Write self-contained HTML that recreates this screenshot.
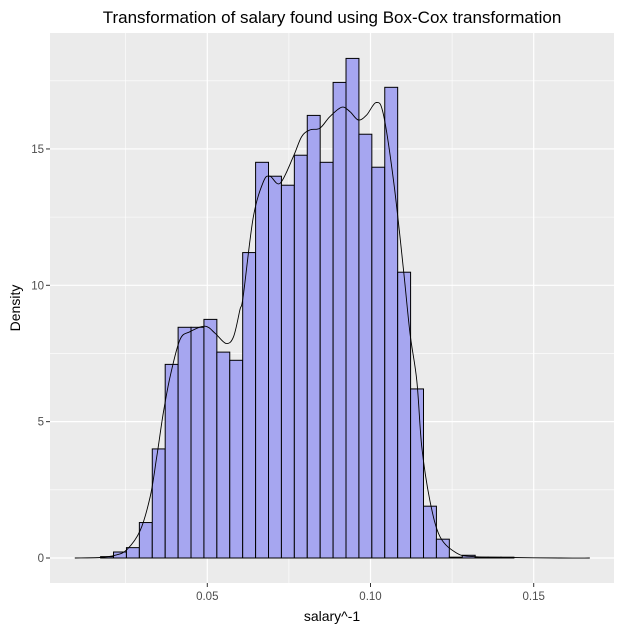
<!DOCTYPE html>
<html><head><meta charset="utf-8"><style>
body{margin:0;background:#fff;}
svg{display:block;font-family:"Liberation Sans",Arial,sans-serif;}
</style></head><body>
<svg id="chart" width="622" height="630">
<rect x="0" y="0" width="622" height="630" fill="#fff"/>
<rect x="50" y="33" width="564" height="550" fill="#ebebeb"/>
<g id="grid"></g>
<g id="bars"></g>
<g id="curve"></g>
<g id="axes"></g>
<text x="332" y="23" text-anchor="middle" font-size="17" fill="#000">Transformation of salary found using Box-Cox transformation</text>
<text x="332" y="621" text-anchor="middle" font-size="14" fill="#000">salary^-1</text>
<text transform="translate(20,308) rotate(-90)" text-anchor="middle" font-size="14" fill="#000">Density</text>
</svg>
<script>
const binStart = 0.0094;
const binWidth = 0.003957;
const densities = [0,0,0.05,0.22,0.38,1.3,4.0,7.1,8.46,8.46,8.75,7.55,7.25,11.2,14.51,14.0,13.67,14.77,16.23,14.51,17.44,18.32,15.54,14.33,17.26,10.48,6.2,1.9,0.69,0.03,0.1,0.03,0.03,0.03,0,0,0,0,0,0];
const curveX = [0.0094,0.0171,0.0217,0.0253,0.0294,0.0325,0.0345,0.0365,0.0386,0.0416,0.0447,0.0493,0.0524,0.0557,0.0580,0.0600,0.0610,0.0641,0.0672,0.0692,0.0723,0.0763,0.0789,0.0815,0.0845,0.0875,0.0912,0.0937,0.0963,0.0988,0.1017,0.1039,0.1070,0.1100,0.1121,0.1142,0.1157,0.1182,0.1213,0.1264,0.1314,0.1427,0.1580,0.1672];
const curveY = [0,0.02,0.1,0.3,1.0,2.25,3.7,5.3,6.65,8.0,8.3,8.5,8.24,7.87,8.1,9.1,9.6,12.5,13.8,14.0,13.74,14.7,15.45,15.7,15.76,16.18,16.53,16.37,16.06,16.24,16.7,16.3,13.9,10.7,8.24,6.5,4.1,2.1,0.78,0.18,0.05,0.02,0,0];
const xTicks = [0.05,0.10,0.15];
const xTickLabels = ["0.05","0.10","0.15"];
const xMinor = [0.025,0.075,0.125];
const yTicks = [0,5,10,15];
const yTickLabels = ["0","5","10","15"];
const yMinor = [2.5,7.5,12.5,17.5];

const X = v => 207.3 + (v - 0.05) * 3264;
const Y = d => 558 - d * 27.27;
const NS = "http://www.w3.org/2000/svg";
function mk(tag, attrs, parent){const e=document.createElementNS(NS,tag);for(const k in attrs)e.setAttribute(k,attrs[k]);parent.appendChild(e);return e;}
const grid=document.getElementById('grid'), bars=document.getElementById('bars'), curve=document.getElementById('curve'), axes=document.getElementById('axes');

xMinor.forEach(v=>{const l=mk('line',{x1:X(v),x2:X(v),y1:33,y2:583,stroke:'#fff','stroke-width':0.6},grid);

});
yMinor.forEach(v=>{const l=mk('line',{x1:50,x2:614,y1:Y(v),y2:Y(v),stroke:'#fff','stroke-width':0.6},grid);

});
xTicks.forEach((v,i)=>{const l=mk('line',{x1:X(v),x2:X(v),y1:33,y2:583,stroke:'#fff','stroke-width':1.2},grid);


mk('line',{x1:X(v),x2:X(v),y1:583,y2:587,stroke:'#333','stroke-width':1},axes);
const t=mk('text',{x:X(v),y:600,'text-anchor':'middle','font-size':11.5,fill:'#4d4d4d'},axes);t.textContent=xTickLabels[i];

});
yTicks.forEach((v,i)=>{const l=mk('line',{x1:50,x2:614,y1:Y(v),y2:Y(v),stroke:'#fff','stroke-width':1.2},grid);


mk('line',{x1:46,x2:50,y1:Y(v),y2:Y(v),stroke:'#333','stroke-width':1},axes);
const t=mk('text',{x:44,y:Y(v)+4,'text-anchor':'end','font-size':11.5,fill:'#4d4d4d'},axes);t.textContent=yTickLabels[i];

});

densities.forEach((d,i)=>{const x0=X(binStart+i*binWidth),x1=X(binStart+(i+1)*binWidth);
const r=mk('rect',{x:x0,y:Y(d),width:x1-x0,height:Y(0)-Y(d),fill:'#a6a6f0',stroke:'#000','stroke-width':1},bars);

});

// smooth path through points (Catmull-Rom)
const pts=curveX.map((v,i)=>[X(v),Y(curveY[i])]);
let dstr='M'+pts[0][0].toFixed(1)+','+pts[0][1].toFixed(1);
for(let i=0;i<pts.length-1;i++){const p0=pts[Math.max(0,i-1)],p1=pts[i],p2=pts[i+1],p3=pts[Math.min(pts.length-1,i+2)];
const c1=[p1[0]+(p2[0]-p0[0])/6,p1[1]+(p2[1]-p0[1])/6],c2=[p2[0]-(p3[0]-p1[0])/6,p2[1]-(p3[1]-p1[1])/6];
dstr+='C'+c1[0].toFixed(1)+','+c1[1].toFixed(1)+' '+c2[0].toFixed(1)+','+c2[1].toFixed(1)+' '+p2[0].toFixed(1)+','+p2[1].toFixed(1);}
const p=mk('path',{d:dstr,fill:'none',stroke:'#000','stroke-width':0.9},curve);


</script>
</body></html>
